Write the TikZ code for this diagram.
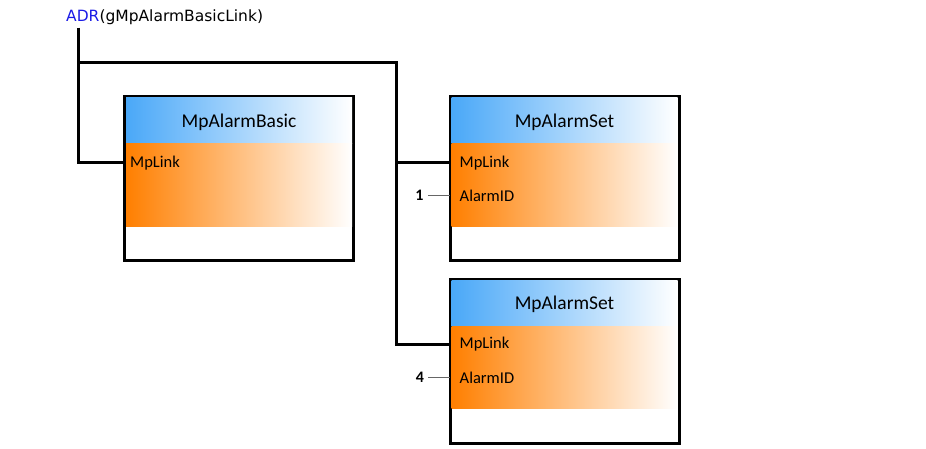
\documentclass[tikz,border=0pt]{standalone}
\usepackage{fontspec}
\setmainfont{Carlito}
\newfontfamily\adrfont{DejaVu Sans}
\usetikzlibrary{positioning,calc}
\definecolor{HeadBlue}{HTML}{4AA8F8}
\definecolor{PortOrange}{HTML}{FF7F00}
\definecolor{AdrBlue}{HTML}{1A1AE6}
\tikzset{
fbframe/.style={draw=black, line width=2pt, minimum width=228pt, minimum height=163pt, inner sep=0pt},
fbhead/.style={left color=HeadBlue, right color=white},
fbports/.style={left color=PortOrange, right color=white},
fbtitle/.style={font=\fontsize{19.5}{21}\selectfont, inner sep=0pt},
fbpin/.style={font=\fontsize{16.5}{18}\selectfont, anchor=west, inner sep=0pt},
fbconst/.style={font=\bfseries\fontsize{16}{18}\selectfont, inner sep=0pt},
fbwire/.style={line width=3pt},
fbtick/.style={draw=black!60, line width=0.8pt}
}

\begin{document}
\begin{tikzpicture}[x=1pt, y=-1pt]
  \useasboundingbox (0,0) rectangle (926,449);
  % function blocks
  \node[fbframe] (basic) at (239,178.5) {};
  \node[fbframe] (set1) at (564.5,178.5) {};
  \node[fbframe] (set2) at (564.5,361) {};
  \foreach \blk in {basic,set1,set2} {
    \shade[fbhead] ($(\blk.north west)+(2,2)$) rectangle ($(\blk.north east)+(-2,48)$);
    \shade[fbports] ($(\blk.north west)+(2,48)$) rectangle ($(\blk.north east)+(-2,130)$);
    \draw[line width=2pt] (\blk.north west) rectangle (\blk.south east);
  }
  \node[fbtitle] (basictitle) at ($(basic.north)+(0,26)$) {MpAlarmBasic};
  \node[fbtitle] (set1title) at ($(set1.north)+(0,26)$) {MpAlarmSet};
  \node[fbtitle] (set2title) at ($(set2.north)+(0,26)$) {MpAlarmSet};
  \node[fbpin] (basiclink) at ($(basic.north west)+(6,67)$) {MpLink};
  \node[fbpin] (set1link) at ($(set1.north west)+(10,67)$) {MpLink};
  \node[fbpin] (set1id) at ($(set1.north west)+(10,100)$) {AlarmID};
  \node[fbpin] (set2link) at ($(set2.north west)+(10,66)$) {MpLink};
  \node[fbpin] (set2id) at ($(set2.north west)+(10,99)$) {AlarmID};
  % inputs
  \node[anchor=west, inner sep=0pt, font=\adrfont\fontsize{15.5}{17}\selectfont] (adr) at (66,17) {\textcolor{AdrBlue}{ADR}(gMpAlarmBasicLink)};
  \node[fbconst] (id1) at (419.5,195) {1};
  \node[fbconst] (id4) at (420,377) {4};
  \coordinate (tap) at (78,63);
  \coordinate (bus) at (396,63);
  % connections
  \draw[fbwire] ([xshift=12pt,yshift=-3pt]adr.south west) |- (basic.west |- basiclink.west);
  \draw[fbwire] (tap) -- (bus) |- (set2.west |- set2link.west);
  \draw[fbwire] (bus |- set1link.west) -- (set1.west |- set1link.west);
  \draw[fbtick] ([xshift=4pt]id1.east) -- (set1.west |- id1);
  \draw[fbtick] ([xshift=4pt]id4.east) -- (set2.west |- id4);
\end{tikzpicture}
\end{document}
